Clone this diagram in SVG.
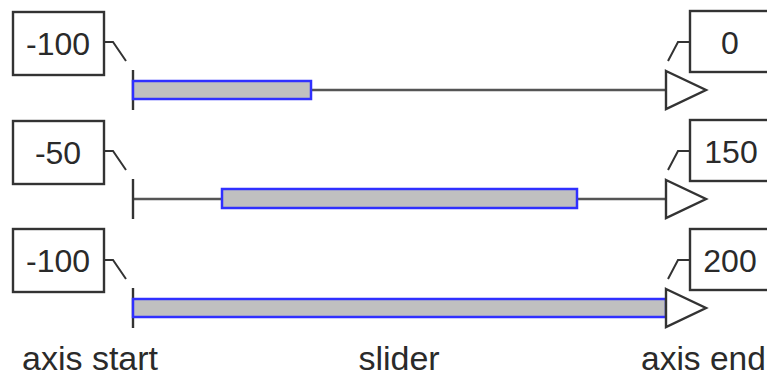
<svg xmlns="http://www.w3.org/2000/svg" width="767" height="379" viewBox="0 0 767 379">
  <style>
    .box { fill: #ffffff; stroke: #333333; stroke-width: 2.4; }
    .num { font-family: "Liberation Sans", Arial, sans-serif; font-size: 32px; fill: #2a2a2a; text-anchor: middle; }
    .cap { font-family: "Liberation Sans", Arial, sans-serif; font-size: 34px; fill: #2a2a2a; }
    .axis { stroke: #555555; stroke-width: 2.5; fill: none; }
    .tick { stroke: #333333; stroke-width: 2.4; }
    .lead { stroke: #333333; stroke-width: 2; fill: none; }
    .slider { fill: #c0c0c0; stroke: #3030ff; stroke-width: 2.5; }
    .arrow { fill: #ffffff; stroke: #333333; stroke-width: 2.4; stroke-linejoin: miter; }
  </style>

  <g id="connectors">
    <!-- leaders from start labels -->
    <polyline class="lead" points="104,42 113,42 126,61"/>
    <polyline class="lead" points="104,151 113,151 126,170"/>
    <polyline class="lead" points="104,260 113,260 126,279"/>
    <!-- leaders from end labels -->
    <polyline class="lead" points="690,42 678,42 668,61"/>
    <polyline class="lead" points="690,151 678,151 668,170"/>
    <polyline class="lead" points="690,260 678,260 668,279"/>
  </g>

  <!-- row 1 -->
  <g id="row1-axis">
    <line class="axis" x1="133" y1="90" x2="666" y2="90"/>
    <line class="tick" x1="133" y1="70" x2="133" y2="110"/>
    <rect class="slider" x="133" y="81" width="178" height="18"/>
    <polygon class="arrow" points="666,71 706,90 666,109"/>
  </g>
  <g id="row1-start">
    <rect class="box" x="13" y="12" width="91" height="63"/>
    <text class="num" x="58" y="55">-100</text>
  </g>
  <g id="row1-end">
    <rect class="box" x="690" y="11" width="90" height="61"/>
    <text class="num" x="730" y="54">0</text>
  </g>

  <!-- row 2 -->
  <g id="row2-axis">
    <line class="axis" x1="133" y1="199" x2="666" y2="199"/>
    <line class="tick" x1="133" y1="179" x2="133" y2="219"/>
    <rect class="slider" x="222" y="189" width="355" height="19"/>
    <polygon class="arrow" points="666,180 706,199 666,218"/>
  </g>
  <g id="row2-start">
    <rect class="box" x="13" y="121" width="91" height="63"/>
    <text class="num" x="58" y="164">-50</text>
  </g>
  <g id="row2-end">
    <rect class="box" x="690" y="120" width="90" height="61"/>
    <text class="num" x="731" y="163">150</text>
  </g>

  <!-- row 3 -->
  <g id="row3-axis">
    <line class="axis" x1="133" y1="308" x2="666" y2="308"/>
    <line class="tick" x1="133" y1="288" x2="133" y2="328"/>
    <rect class="slider" x="133" y="299" width="533" height="18"/>
    <polygon class="arrow" points="666,289 706,308 666,327"/>
  </g>
  <g id="row3-start">
    <rect class="box" x="13" y="229" width="91" height="63"/>
    <text class="num" x="58" y="272">-100</text>
  </g>
  <g id="row3-end">
    <rect class="box" x="690" y="229" width="90" height="61"/>
    <text class="num" x="730" y="272">200</text>
  </g>

  <!-- captions -->
  <g id="captions">
    <text class="cap" x="22" y="370">axis start</text>
    <text class="cap" x="399" y="370" text-anchor="middle">slider</text>
    <text class="cap" x="641" y="370" style="font-size:33.5px">axis end</text>
  </g>
</svg>
